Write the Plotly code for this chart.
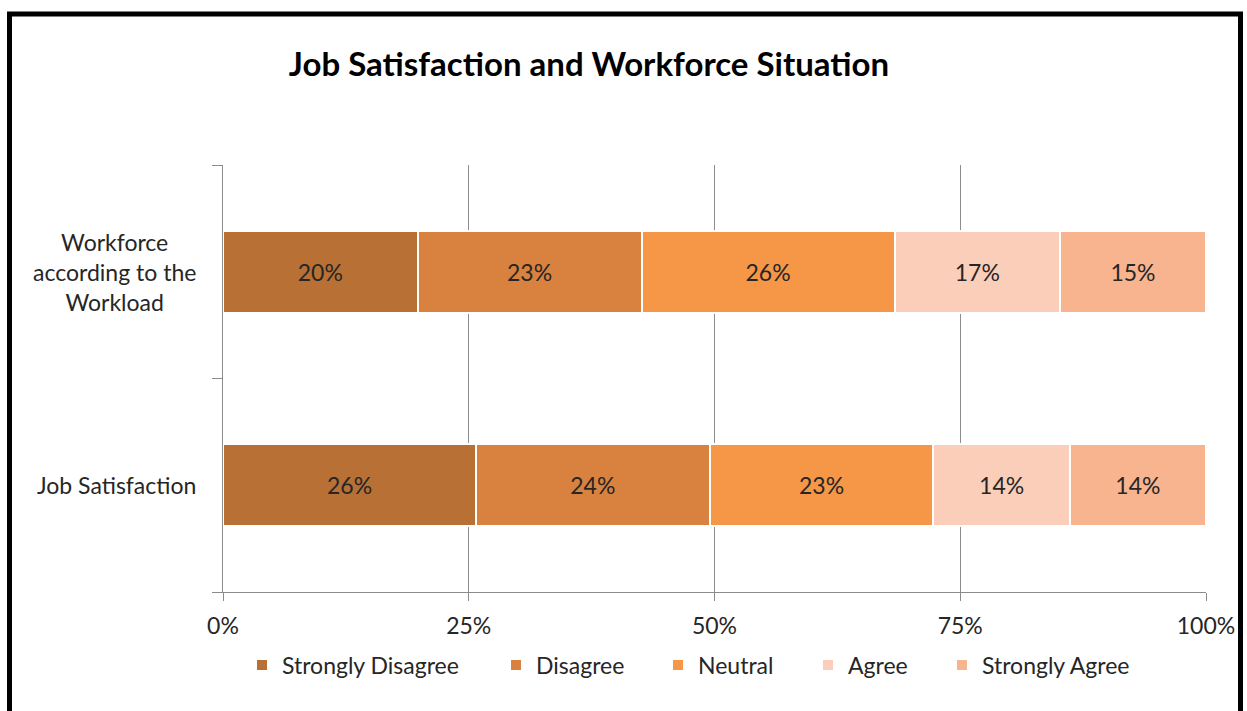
import plotly.graph_objects as go

# Survey items (bottom to top as plotted) and response shares in percent
items = ["Job Satisfaction", "Workforce according to the Workload"]
item_labels = ["Job Satisfaction", "Workforce<br>according to the<br>Workload"]
levels = ["Strongly Disagree", "Disagree", "Neutral", "Agree", "Strongly Agree"]

strongly_disagree = [26, 20]
disagree = [24, 23]
neutral = [23, 26]
agree = [14, 17]
strongly_agree = [14, 15]

series = [strongly_disagree, disagree, neutral, agree, strongly_agree]
colors = ["#B87035", "#D9823F", "#F69647", "#FBCEB9", "#F8B38F"]

tick_vals = [0, 25, 50, 75, 100]
tick_text = ["0%", "25%", "50%", "75%", "100%"]

FONT = "Lato"
TEXT_COLOR = "#262626"
SIZE = 23

W, H = 1247, 711
ML, MR, MT, MB = 223, 41, 165, 119
plot_w = W - ML - MR
plot_h = H - MT - MB


def px_x(px):
    return (px - ML) / plot_w


def px_y(py):
    return (H - MB - py) / plot_h


# one legend box per response level, laid out in a single row
legend_left_px = [242, 496, 658, 808, 942]
legend_ids = ["legend", "legend2", "legend3", "legend4", "legend5"]

fig = go.Figure()
for name, vals, col, lid in zip(levels, series, colors, legend_ids):
    fig.add_trace(go.Bar(
        y=items,
        x=vals,
        name=name,
        orientation="h",
        marker=dict(color=col, line=dict(color="white", width=2)),
        text=[f"{v}%" for v in vals],
        textposition="inside",
        insidetextanchor="middle",
        textfont=dict(family=FONT, size=SIZE, color=TEXT_COLOR),
        width=0.385,
        hoverinfo="skip",
        legend=lid,
    ))

legend_layout = {}
for lid, lx in zip(legend_ids, legend_left_px):
    legend_layout[lid] = dict(
        orientation="h",
        x=px_x(lx),
        xanchor="left",
        y=px_y(665),
        yanchor="middle",
        font=dict(family=FONT, size=SIZE, color=TEXT_COLOR),
        bgcolor="rgba(0,0,0,0)",
        itemclick=False,
        itemdoubleclick=False,
    )

fig.update_layout(
    barmode="stack",
    barnorm="percent",
    width=W,
    height=H,
    margin=dict(l=ML, r=MR, t=MT, b=MB),
    paper_bgcolor="white",
    plot_bgcolor="white",
    font=dict(family=FONT, size=SIZE, color=TEXT_COLOR),
    uniformtext=dict(mode="show", minsize=10),
    title=dict(
        text="<b>Job Satisfaction and Workforce Situation</b>",
        x=589 / W,
        xanchor="center",
        y=1 - 64 / H,
        yanchor="middle",
        font=dict(family=FONT, size=33, color="#000000"),
    ),
    xaxis=dict(
        range=[0, 100],
        tickvals=tick_vals,
        ticktext=tick_text,
        showgrid=True,
        gridcolor="#8C8C8C",
        gridwidth=1,
        showline=True,
        linecolor="#8C8C8C",
        linewidth=1,
        ticks="outside",
        ticklen=8,
        tickcolor="#8C8C8C",
        ticklabelstandoff=5,
        tickfont=dict(family=FONT, size=SIZE, color=TEXT_COLOR),
        zeroline=False,
        fixedrange=True,
    ),
    yaxis=dict(
        categoryorder="array",
        categoryarray=items,
        showline=True,
        linecolor="#8C8C8C",
        linewidth=1,
        ticks="outside",
        tickson="boundaries",
        ticklen=10,
        tickcolor="#8C8C8C",
        showticklabels=False,
        showgrid=False,
        fixedrange=True,
    ),
    showlegend=True,
    **legend_layout,
)

# Category labels, centre-aligned beside each bar
for cat, lab in zip(items, item_labels):
    fig.add_annotation(
        xref="paper", yref="y",
        x=px_x(198),
        y=cat,
        xanchor="right",
        yanchor="middle",
        text=lab,
        align="center",
        showarrow=False,
        font=dict(family=FONT, size=SIZE, color=TEXT_COLOR),
    )

# Outer frame around the chart
fig.add_shape(
    type="path",
    xref="paper", yref="paper",
    path=(f"M {px_x(9.5)} {px_y(740)} L {px_x(9.5)} {px_y(14)} "
          f"L {px_x(1240.5)} {px_y(14)} L {px_x(1240.5)} {px_y(740)}"),
    line=dict(color="black", width=5),
    layer="above",
)

fig.write_html("out.html")
